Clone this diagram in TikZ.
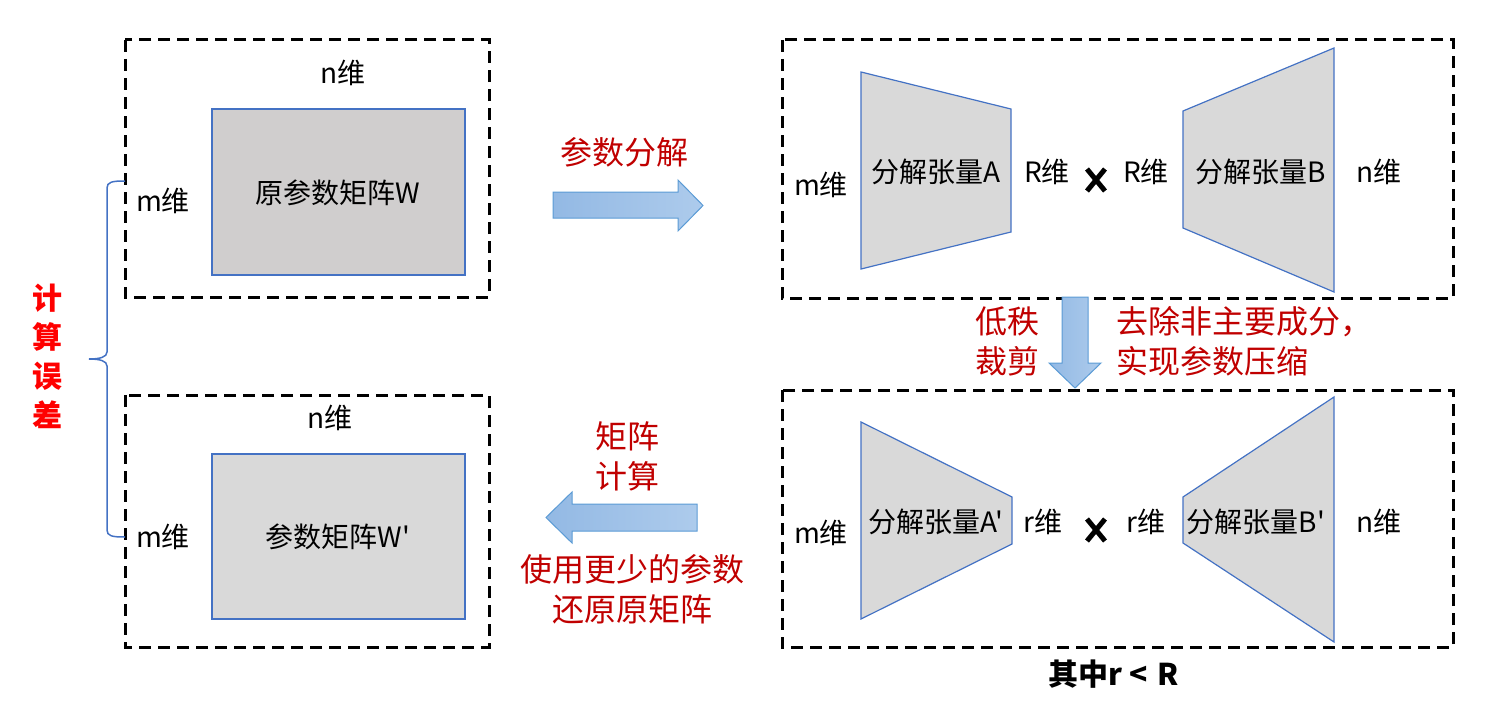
\documentclass[tikz,border=0pt]{standalone}
\usepackage{fontspec}
\setmainfont{Noto Sans CJK SC}[Ligatures=TeXOff]
\usetikzlibrary{calc}
\definecolor{dred}{HTML}{C00000}
\definecolor{bred}{HTML}{FF0000}
\definecolor{edgeblue}{HTML}{4472C4}
\definecolor{arrowA}{HTML}{93B9E4}
\definecolor{arrowB}{HTML}{ADCBEC}
\definecolor{arrowedge}{HTML}{5B9BD5}
\definecolor{matgray}{HTML}{D0CECE}
\definecolor{tengray}{HTML}{D9D9D9}
\tikzset{
  dashbox/.style={draw=black, line width=3pt, dash pattern=on 12pt off 7pt},
  matbox/.style={draw=edgeblue, line width=1.2pt, fill=#1},
  tensor/.style={draw=edgeblue, line width=1.2pt, fill=tengray},
  lbl/.style={font=\fontsize{28}{32}\selectfont, text=black, inner sep=0pt},
  redlbl/.style={font=\fontsize{32}{40}\selectfont, text=dred, inner sep=0pt, align=center},
  bigarrow/.style={draw=arrowedge, line width=1pt, left color=arrowA, right color=arrowB},
  crossmark/.style={line width=5pt, draw=black}
}
\begin{document}
\begin{tikzpicture}[x=1pt,y=-1pt]
\useasboundingbox (0,0) rectangle (1488,701);
% ---------- left top ----------
\draw[dashbox] (125,40) rectangle (489,297);
\node[matbox=matgray, minimum width=253pt, minimum height=166pt, inner sep=0pt] (W) at (338.5,192) {};
\node[lbl] (Wt) at (338,193) {原参数矩阵W};
\node[lbl] (n1) at (343,73) {n维};
\node[lbl] (m1) at (163,201) {m维};
% ---------- left bottom ----------
\draw[dashbox] (125,395) rectangle (489,647);
\node[matbox=tengray, minimum width=253pt, minimum height=165pt, inner sep=0pt] (W2) at (338.5,536.5) {};
\node[lbl] (W2t) at (338,537) {参数矩阵W'};
\node[lbl] (n2) at (330,418) {n维};
\node[lbl] (m2) at (163,537) {m维};
% ---------- brace ----------
\coordinate (bt) at (125,181);
\coordinate (bb) at (125,537);
\coordinate (bm) at (89,359);
\draw[draw=edgeblue, line width=1.5pt]
  (bt) .. controls (112,181) and (107,182) .. (107,188)
  -- (107,352) .. controls (107,357) and (100,359) .. (bm)
  .. controls (100,359) and (107,361) .. (107,366)
  -- (107,530) .. controls (107,536) and (112,537) .. (bb);
\node[font=\fontsize{30}{39}\selectfont\bfseries, text=bred, align=center, inner sep=0pt] (err) at (47,356) {计\\算\\误\\差};
% ---------- right arrow ----------
\draw[bigarrow] (553,192) -- (678,192) -- (678,180) -- (703,205.5) -- (678,231) -- (678,218) -- (553,218) -- cycle;
\node[redlbl] (decomp) at (624,152) {参数分解};
% ---------- right top ----------
\draw[dashbox] (782,40) rectangle (1453,298);
\draw[tensor] (861,72) -- (1011,109) -- (1011,232) -- (861,269) -- cycle;
\draw[tensor] (1183,111) -- (1334,48) -- (1334,292) -- (1183,228) -- cycle;
\node[lbl] (tA) at (936,172) {分解张量A};
\node[lbl] (tB) at (1261,172) {分解张量B};
\node[lbl] (mA) at (821,185) {m维};
\node[lbl] (RA) at (1047,172) {R维};
\node[lbl] (RB) at (1146,172) {R维};
\node[lbl] (nB) at (1379,172) {n维};
\coordinate (x1) at (1096,180);
\draw[crossmark] ($(x1)+(-9,-11)$) -- ($(x1)+(9,11)$);
\draw[crossmark] ($(x1)+(9,-11)$) -- ($(x1)+(-9,11)$);
% ---------- down arrow ----------
\draw[bigarrow] (1062,297) -- (1088,297) -- (1088,363) -- (1101,363) -- (1075,388) -- (1049,363) -- (1062,363) -- cycle;
\node[redlbl] (lowrank) at (1007,341) {低秩\\裁剪};
\node[redlbl, align=left, anchor=west] (remove) at (1116,341) {去除非主要成分，\\实现参数压缩};
% ---------- right bottom ----------
\draw[dashbox] (782,390) rectangle (1453,647);
\draw[tensor] (861,422) -- (1012,497) -- (1012,544) -- (861,619) -- cycle;
\draw[tensor] (1183,497) -- (1334,397) -- (1334,642) -- (1183,543) -- cycle;
\node[lbl] (tA2) at (936,522) {分解张量A'};
\node[lbl] (tB2) at (1256,522) {分解张量B'};
\node[lbl] (mA2) at (821,533) {m维};
\node[lbl] (rA) at (1043,522) {r维};
\node[lbl] (rB) at (1146,522) {r维};
\node[lbl] (nB2) at (1379,522) {n维};
\coordinate (x2) at (1096,530);
\draw[crossmark] ($(x2)+(-9,-11)$) -- ($(x2)+(9,11)$);
\draw[crossmark] ($(x2)+(9,-11)$) -- ($(x2)+(-9,11)$);
\node[font=\fontsize{30}{34}\selectfont\bfseries, inner sep=0pt] (cond) at (1114,674) {其中r\hspace{7pt}<\hspace{10pt}R};
% ---------- left arrow ----------
\draw[bigarrow] (697,504) -- (572,504) -- (572,492) -- (546,517.5) -- (572,543) -- (572,531) -- (697,531) -- cycle;
\node[redlbl] (matcalc) at (627,456) {矩阵\\计算};
\node[redlbl] (restore) at (632,589) {使用更少的参数\\还原原矩阵};
\end{tikzpicture}
\end{document}
